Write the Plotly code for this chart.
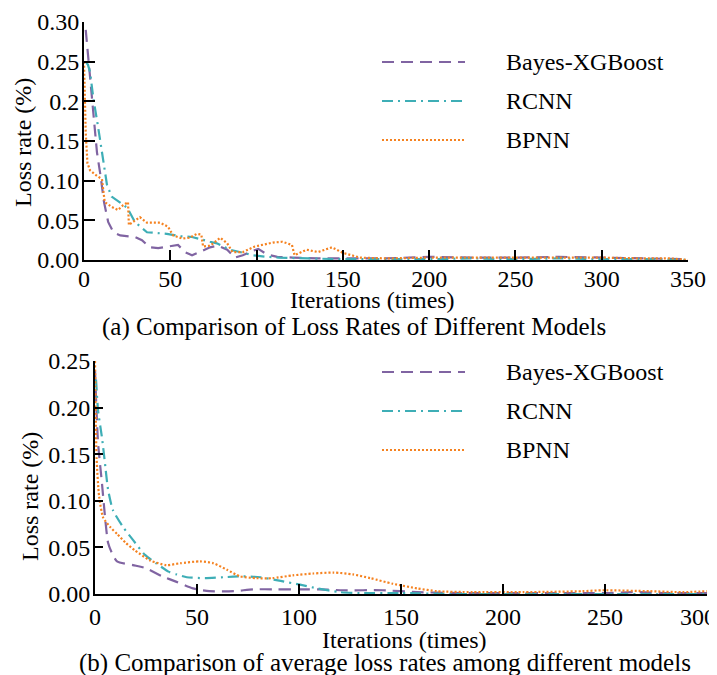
import plotly.graph_objects as go

# (a) loss rate per iteration
a_bayes_x = [1, 2.5, 4.6, 6.4, 7.5, 9.8, 11.6, 14, 17, 21, 29.5, 33.6, 38, 43, 50, 54.5, 58.5, 62.6, 68, 73,
             77.6, 83, 87.5, 92, 96, 101, 106, 112, 121, 135, 150, 175, 200, 225, 250, 275, 300, 325, 350]
a_bayes_y = [0.29, 0.255, 0.204, 0.17, 0.136, 0.103, 0.073, 0.048, 0.035, 0.031, 0.029, 0.025, 0.016, 0.015,
             0.018, 0.019, 0.010, 0.006, 0.011, 0.016, 0.018, 0.013, 0.003, 0.006, 0.010, 0.014, 0.007, 0.004,
             0.003, 0.002, 0.002, 0.002, 0.004, 0.003, 0.003, 0.004, 0.003, 0.002, 0.001]

a_rcnn_x = [1, 2.3, 3.5, 5.4, 8, 10.4, 13.3, 16, 21, 25, 29.5, 36.5, 42, 48, 55.6, 62.6, 73, 77, 84.6, 90, 98,
            106, 113, 130, 150, 175, 200, 225, 250, 275, 300, 325, 350]
a_rcnn_y = [0.25, 0.246, 0.237, 0.204, 0.170, 0.136, 0.095, 0.080, 0.072, 0.066, 0.048, 0.035, 0.034, 0.033,
            0.030, 0.029, 0.023, 0.021, 0.013, 0.010, 0.006, 0.004, 0.003, 0.002, 0.001, 0.001, 0.001, 0.002,
            0.001, 0.002, 0.001, 0.001, 0.000]

a_bpnn_x = [0, 1, 2, 3.5, 7.5, 10.4, 12, 16, 19.7, 22.6, 25.5, 26, 28.4, 32.4, 36.5, 44, 48.7, 51.6, 57, 61,
            65.5, 68, 69, 73, 79, 83, 86, 92, 99, 106.6, 109.5, 115, 120.5, 122, 129, 135.6, 143.7, 150, 160,
            175, 200, 225, 250, 275, 300, 325, 340, 350]
a_bpnn_y = [0.25, 0.16, 0.122, 0.113, 0.106, 0.102, 0.073, 0.067, 0.063, 0.069, 0.073, 0.044, 0.048, 0.054,
            0.047, 0.047, 0.042, 0.031, 0.027, 0.028, 0.033, 0.032, 0.017, 0.018, 0.028, 0.021, 0.010, 0.010,
            0.017, 0.021, 0.022, 0.023, 0.019, 0.006, 0.013, 0.010, 0.016, 0.009, 0.003, 0.002, 0.003, 0.003,
            0.003, 0.003, 0.003, 0.002, 0.002, 0.000]

# (b) average loss rate
b_bayes_x = [0, 1.5, 3.4, 4.9, 6.4, 8.3, 10.8, 18.6, 24.5, 33, 40, 48, 56, 68, 77.6, 89, 100, 110, 121.6,
             141, 158, 180, 200, 225, 250, 265, 280, 300]
b_bayes_y = [0.24, 0.162, 0.119, 0.083, 0.055, 0.044, 0.035, 0.031, 0.028, 0.019, 0.013, 0.006, 0.003, 0.003,
             0.005, 0.005, 0.005, 0.005, 0.004, 0.004, 0.002, 0.001, 0.001, 0.001, 0.001, 0.002, 0.001, 0.001]

b_rcnn_x = [0.5, 1.5, 3.4, 4.9, 6.4, 8.8, 13.7, 18.6, 24.5, 30, 36, 40, 45, 54, 63, 72.5, 81, 91, 100.5, 109,
            120, 130, 150, 175, 200, 225, 250, 275, 300]
b_rcnn_y = [0.23, 0.197, 0.168, 0.140, 0.112, 0.090, 0.072, 0.058, 0.042, 0.033, 0.024, 0.021, 0.018, 0.017,
            0.018, 0.019, 0.018, 0.014, 0.010, 0.006, 0.002, 0.001, 0.001, 0.000, 0.000, 0.000, 0.000, 0.000,
            0.000]

b_bpnn_x = [0, 0.3, 0.8, 2, 4, 7.4, 11, 15, 19.5, 27, 35, 41.7, 51.5, 58, 64.7, 71, 79, 87, 97, 107, 117,
            126.5, 135, 146, 158, 167.6, 185, 210, 239, 249, 272, 288, 300]
b_bpnn_y = [0.25, 0.20, 0.145, 0.105, 0.082, 0.072, 0.064, 0.055, 0.047, 0.036, 0.031, 0.033, 0.035, 0.033,
            0.026, 0.019, 0.017, 0.017, 0.020, 0.022, 0.023, 0.021, 0.017, 0.011, 0.006, 0.003, 0.002, 0.002,
            0.003, 0.004, 0.003, 0.002, 0.003]

models = ["Bayes-XGBoost", "RCNN", "BPNN"]
colors = ["#8064a2", "#3eaeb6", "#f58220"]
dashes = ["12px,7px", "11px,5px,2px,5px", "2px,2px"]

a_ticks_y = [0, 0.05, 0.10, 0.15, 0.2, 0.25, 0.30]
a_ticktext_y = ["0.00", "0.05", "0.10", "0.15", "0.2", "0.25", "0.30"]
b_ticks_y = [0, 0.05, 0.10, 0.15, 0.20, 0.25]
b_ticktext_y = ["0.00", "0.05", "0.10", "0.15", "0.20", "0.25"]
b_ticks_x = [0, 50, 100, 150, 200, 250, 300]
# last label sits a bit left of its tick, as in the source image (padded with invisible text)
b_ticktext_x = ["0", "50", "100", "150", "200", "250",
                "300<span style='color:rgba(0,0,0,0)'>0.</span>"]

W, H = 717, 675
OFF = 8  # page body margin
FONT = "Liberation Serif, Times New Roman, serif"


def fx(px):
    return (px - OFF) / W


def fy(py):
    return 1 - (py - OFF) / H


fig = go.Figure()

a_series = [(a_bayes_x, a_bayes_y), (a_rcnn_x, a_rcnn_y), (a_bpnn_x, a_bpnn_y)]
b_series = [(b_bayes_x, b_bayes_y), (b_rcnn_x, b_rcnn_y), (b_bpnn_x, b_bpnn_y)]

for i, (xs, ys) in enumerate(a_series):
    fig.add_trace(go.Scatter(x=xs, y=ys, mode="lines", name=models[i], showlegend=False,
                             line=dict(color=colors[i], width=2.2, dash=dashes[i]),
                             xaxis="x", yaxis="y"))
for i, (xs, ys) in enumerate(b_series):
    fig.add_trace(go.Scatter(x=xs, y=ys, mode="lines", name=models[i], showlegend=False,
                             line=dict(color=colors[i], width=2.2, dash=dashes[i], shape="spline", smoothing=0.6),
                             xaxis="x2", yaxis="y2"))

axis_common = dict(showline=True, linecolor="black", linewidth=2, showgrid=False, zeroline=False,
                   ticks="inside", tickcolor="black", tickwidth=2, mirror=False, automargin=False,
                   ticklabeloverflow="allow",
                   tickfont=dict(family=FONT, size=24, color="black"))

fig.update_layout(
    width=W, height=H,
    margin=dict(l=0, r=0, t=0, b=0, autoexpand=False),
    paper_bgcolor="white", plot_bgcolor="white",
    font=dict(family=FONT, size=24, color="black"),
    xaxis=dict(domain=[fx(84), fx(688)], range=[0, 350], tickvals=list(range(0, 351, 50)),
               anchor="y", ticklen=10, ticklabelstandoff=-4, **axis_common),
    yaxis=dict(domain=[fy(260), fy(22)], range=[0, 0.30], tickvals=a_ticks_y, ticktext=a_ticktext_y,
               anchor="x", ticklen=11, ticklabelstandoff=-2, **axis_common),
    xaxis2=dict(domain=[fx(95), fx(707)], range=[0, 300], tickvals=b_ticks_x, ticktext=b_ticktext_x,
                anchor="y2", ticklen=10, **axis_common),
    yaxis2=dict(domain=[fy(594), fy(361)], range=[0, 0.25], tickvals=b_ticks_y, ticktext=b_ticktext_y,
                anchor="x2", ticklen=8, ticklabelstandoff=-2, **axis_common),
)

# legends drawn by hand (long line samples)
legend_rows = [[62, 101, 140], [372, 411, 450]]
for rows in legend_rows:
    for i, yy in enumerate(rows):
        fig.add_shape(type="line", xref="paper", yref="paper", x0=fx(382), x1=fx(465),
                      y0=fy(yy), y1=fy(yy),
                      line=dict(color=colors[i], width=2, dash=dashes[i]))
        fig.add_annotation(x=fx(504), y=fy(yy), xref="paper", yref="paper", text=models[i],
                           showarrow=False, xanchor="left", yanchor="middle",
                           font=dict(family=FONT, size=24, color="black"))

# axis titles and captions
texts = [
    (372, 300, "Iterations (times)", 0, 24),
    (354, 327, "(a) Comparison of Loss Rates of Different Models", 0, 25),
    (23, 143, "Loss rate (%)", -90, 24),
    (405, 640, "Iterations (times)", 0, 24),
    (385, 663, "(b) Comparison of average loss rates among different models", 0, 25),
    (30, 497, "Loss rate (%)", -90, 24),
]
for x, y, t, ang, sz in texts:
    fig.add_annotation(x=fx(x), y=fy(y), xref="paper", yref="paper", text=t, showarrow=False,
                       xanchor="center", yanchor="middle", textangle=ang,
                       font=dict(family=FONT, size=sz, color="black"))

fig.write_html("out.html")
